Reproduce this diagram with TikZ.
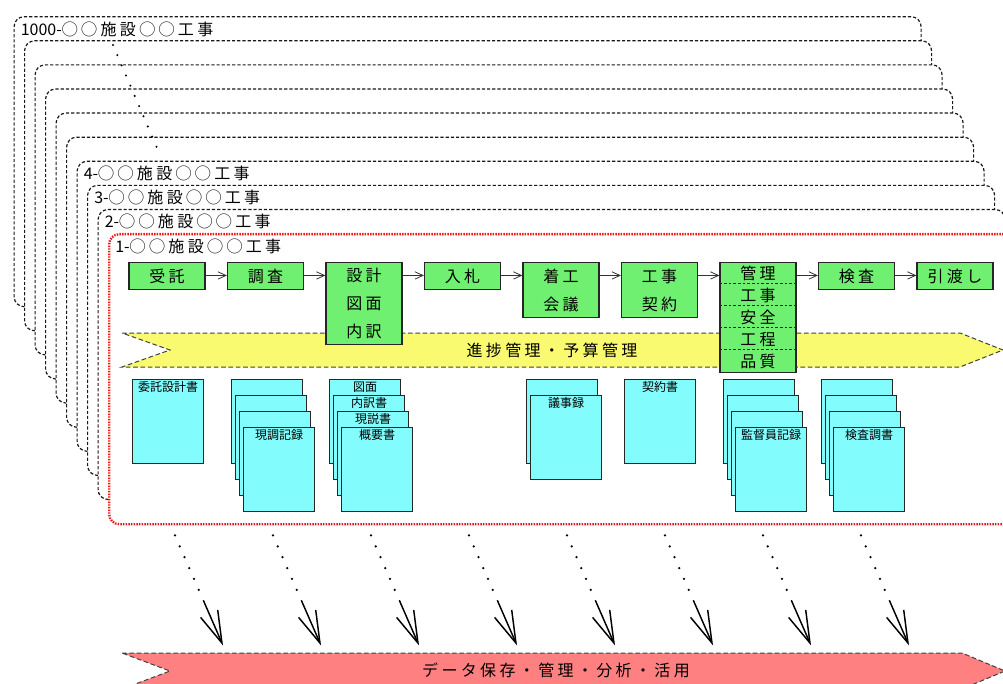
\documentclass[tikz,border=0pt]{standalone}
\usepackage{fontspec}
\newfontfamily\jp[LetterSpace=21]{Noto Sans CJK JP}
\newfontfamily\jpn{Noto Sans CJK JP}
\usetikzlibrary{arrows.meta,calc}

\definecolor{boxgreen}{RGB}{112,240,112}
\definecolor{doccyan}{RGB}{130,252,252}
\definecolor{bandyellow}{RGB}{250,250,112}
\definecolor{bandred}{RGB}{255,128,128}
\definecolor{framered}{RGB}{232,24,24}

\tikzset{
  frame/.style={draw=black!90,fill=white,line width=.9pt,dash pattern=on 2.4pt off 1.5pt,
    rounded corners=7.5pt,anchor=north west,minimum width=680.25pt,minimum height=217.5pt,inner sep=0pt},
  redframe/.style={frame,draw=framered,line width=1.8pt,dash pattern=on 1.1pt off .9pt},
  flabel/.style={anchor=west,inner sep=0pt,font=\jp\fontsize{12}{14}\selectfont},
  procbox/.style={draw=black!85,fill=boxgreen,line width=.9pt,anchor=north,inner sep=0pt,
    minimum width=57pt,align=center},
  flow/.style={draw=black!80,line width=.6pt,-{Straight Barb[length=6pt,width=5.5pt]}},
  sep/.style={draw=black!85,line width=.6pt,dash pattern=on 2pt off 1.5pt},
  band/.style={draw=black!75,line width=.75pt,dash pattern=on 3.5pt off 2pt},
  bandtext/.style={inner sep=0pt,font=\jp\fontsize{12}{14}\selectfont},
  doc/.style={draw=black!85,fill=doccyan,line width=.9pt,anchor=north west,inner sep=0pt,
    minimum width=53.25pt,minimum height=63pt},
  doclabel/.style={inner sep=0pt,font=\jpn\fontsize{9}{10}\selectfont},
  trail/.style={line width=1.9pt,line cap=round,dash pattern=on 0pt off 8.9pt},
  export/.style={line width=1.1pt,-{Straight Barb[length=24pt,width=14pt]}},
}

\begin{document}
\begin{tikzpicture}[x=.75pt,y=-.75pt]
  \useasboundingbox (0,0) rectangle (1003,684);
  % stacked project frames, back to front
  \foreach \i in {10,9,...,2}
    \node[frame] (f\i) at ({108-10.5*(\i-1)},{233-24.1*(\i-1)}) {};
  \node[redframe] (f1) at (108,233) {};
  \foreach \i/\n in {10/1000,4/4,3/3,2/2,1/1}
    \node[flabel] (l\i) at ([shift={(7,13)}]f\i.north west) {{\jpn\n-}◯◯施設◯◯工事};
  \coordinate (gapA) at (113,45);
  \coordinate (gapB) at (160,155);
  \draw[trail,line width=1.7pt,dash pattern=on 0pt off 8.3pt] (gapA) -- (gapB);

  % progress band
  \draw[band,fill=bandyellow] (122,333) -- (960,333) -- (1003,350) -- (960,367) -- (122,367) -- (170,350) -- cycle;
  \node[bandtext] (progress) at (552,350) {進捗管理・予算管理};

  % process steps
  \foreach \nm/\txt/\hgt/\lsk [count=\k from 0] in {
      jutaku/{受託}/20.25/21, chosa/{調査}/20.25/21, sekkei/{設計\\図面\\内訳}/61.5/21,
      nyusatsu/{入札}/20.25/21, chakko/{着工\\会議}/41.25/21, keiyaku/{工事\\契約}/41.25/21,
      kanri/{管理\\工事\\安全\\工程\\品質}/82.5/16.5, kensa/{検査}/20.25/21, hikiwatashi/{引渡し}/20.25/21}
    \node[procbox,minimum height=\hgt pt,font=\jp\fontsize{12}{\lsk}\selectfont] (\nm) at (167+98.5*\k,262) {\txt};
  \foreach \f in {.19,.39,.59,.79}
    \draw[sep] ($(kanri.north west)!\f!(kanri.south west)$) -- ($(kanri.north east)!\f!(kanri.south east)$);
  \foreach \a/\b in {jutaku/chosa,chosa/sekkei,sekkei/nyusatsu,nyusatsu/chakko,
      chakko/keiyaku,keiyaku/kanri,kanri/kensa,kensa/hikiwatashi}
    \draw[flow] ([yshift=-10.1pt]\a.north east) -- ([yshift=-10.1pt]\b.north west);

  % document stacks
  \foreach \x/\lbls [count=\s] in {132/{委託設計書}, 231/{{},{},{},現調記録},
      329/{図面,内訳書,現説書,概要書}, 526/{{},議事録}, 624/{契約書},
      723/{{},{},{},監督員記録}, 821/{{},{},{},検査調書}}
    \foreach \l [count=\j from 0] in \lbls {
      \node[doc] (d\s-\j) at (\x+4*\j,379+16*\j) {};
      \node[doclabel] (dl\s-\j) at ([yshift=-6pt]d\s-\j.north) {\l};
    }

  % export to data store
  \foreach \k in {0,...,7} {
    \coordinate (s\k) at ($(f1.south west)+(67+98*\k,10)$);
    \coordinate (t\k) at ($(s\k)+(48,110)$);
    \draw[trail] (s\k) -- ($(s\k)!.5!(t\k)$);
    \draw[export] ($(s\k)!.59!(t\k)$) -- (t\k);
  }
  \draw[band,fill=bandred] (122,653) -- (962,653) -- (1005,671) -- (962,689) -- (122,689) -- (170,671) -- cycle;
  \node[bandtext] (datastore) at (556,670) {データ保存・管理・分析・活用};
\end{tikzpicture}
\end{document}
